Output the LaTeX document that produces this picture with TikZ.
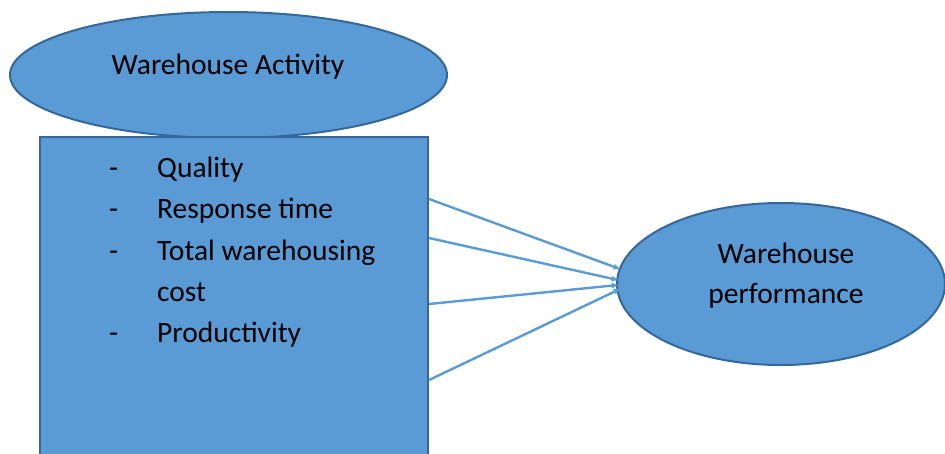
\documentclass[tikz,border=0pt]{standalone}
\usepackage{fontspec}
\setmainfont{Carlito}
\usetikzlibrary{shapes.geometric,arrows.meta}
\definecolor{shapefill}{HTML}{5B9BD5}
\definecolor{shapeedge}{HTML}{35679A}
\definecolor{linkblue}{HTML}{5B9BD5}
\tikzset{
  blob/.style={ellipse, draw=shapeedge, fill=shapefill, line width=2pt, inner sep=0pt},
  panel/.style={rectangle, draw=shapeedge, fill=shapefill, line width=2pt, inner sep=0pt},
  txt/.style={font=\fontsize{29.5}{41}\selectfont, inner sep=0pt, text=black},
  link/.style={draw=linkblue, line width=2.4pt, -{Stealth[length=7pt,width=6pt]}}
}
\begin{document}
\begin{tikzpicture}[x=1pt,y=-1pt]
  \useasboundingbox (0,0) rectangle (945,453);
  \clip (0,0) rectangle (945,453);
  % top ellipse, partly covered by the panel below it
  \node[blob, minimum width=437pt, minimum height=126pt] (act) at (228.5,75) {};
  \node[txt, anchor=base] (actlabel) at (228,74) {Warehouse Activity};
  % list panel
  \node[panel, minimum width=388pt, minimum height=340pt] (box) at (234,307) {};
  \node[txt, anchor=base west] (d1) at (109,177) {-};
  \node[txt, anchor=base west] (d2) at (109,218) {-};
  \node[txt, anchor=base west] (d3) at (109,260) {-};
  \node[txt, anchor=base west] (d5) at (109,342) {-};
  \node[txt, anchor=base west] (i1) at (157,177) {Quality};
  \node[txt, anchor=base west] (i2) at (157,218) {Response time};
  \node[txt, anchor=base west] (i3) at (157,260) {Total warehousing};
  \node[txt, anchor=base west] (i4) at (157,301) {cost};
  \node[txt, anchor=base west] (i5) at (157,342) {Productivity};
  % performance ellipse
  \node[blob, minimum width=328pt, minimum height=162pt] (perf) at (781,284) {};
  \node[txt, anchor=base] (perfa) at (786,263) {Warehouse};
  \node[txt, anchor=base] (perfb) at (786,303) {performance};
  % link end points
  \coordinate (s1) at (box.east |- 0,199);
  \coordinate (s2) at (box.east |- 0,238);
  \coordinate (s3) at (box.east |- 0,304);
  \coordinate (s4) at (box.east |- 0,380);
  \coordinate (t1) at (620,269);
  \coordinate (t2) at (618,280);
  \coordinate (t3) at (618,285);
  \coordinate (t4) at (620,289);
  \draw[link] (s1) -- (t1);
  \draw[link] (s2) -- (t2);
  \draw[link] (s3) -- (t3);
  \draw[link] (s4) -- (t4);
\end{tikzpicture}
\end{document}
